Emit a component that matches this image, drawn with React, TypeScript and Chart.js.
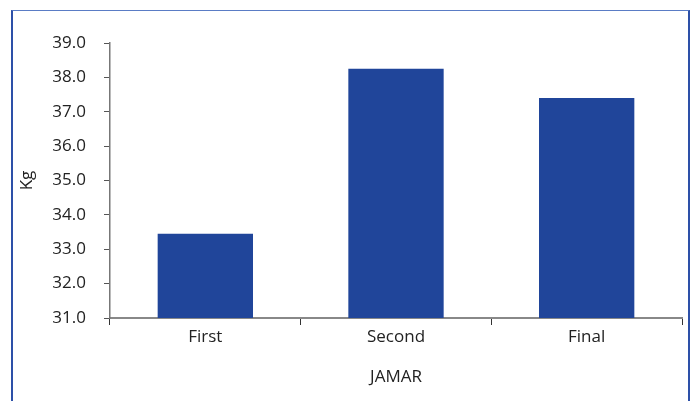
import React, { useEffect, useRef } from "react";
import { Chart, registerables } from "chart.js";

Chart.register(...registerables);

const categories = ["First", "Second", "Final"];
const values = [33.45, 38.25, 37.4];
const yMin = 31;
const yMax = 39;
const yStep = 1;
const yTitle = "Kg";
const xTitle = "JAMAR";

const FONT = "'Open Sans', 'DejaVu Sans', sans-serif";
const SIZE = 17;

export default function App() {
  const ref = useRef<HTMLCanvasElement | null>(null);

  useEffect(() => {
    document.body.style.margin = "0";
    const ctx = ref.current!;
    const chart = new Chart(ctx, {
      type: "bar",
      data: {
        labels: categories,
        datasets: [
          {
            data: values,
            backgroundColor: "#20459a",
            borderWidth: 0,
            categoryPercentage: 1,
            barPercentage: 0.5,
          },
        ],
      },
      options: {
        animation: false,
        responsive: false,
        maintainAspectRatio: false,
        devicePixelRatio: 1,
        layout: { padding: { top: 43, right: 16, bottom: 0, left: 0 } },
        plugins: {
          legend: { display: false },
          tooltip: { enabled: false },
        },
        scales: {
          x: {
            grid: {
              offset: true,
              drawOnChartArea: false,
              drawTicks: true,
              tickLength: 7,
              tickColor: "#333",
              tickWidth: 1,
            },
            border: { display: true, color: "#888", width: 2 },
            ticks: {
              color: "#222",
              font: { family: FONT, size: SIZE },
              padding: 2,
            },
            title: {
              display: true,
              text: xTitle,
              color: "#222",
              font: { family: FONT, size: SIZE },
              padding: { top: 0, bottom: 14 },
            },
            afterFit: (s: any) => {
              s.height = 83;
            },
          },
          y: {
            min: yMin,
            max: yMax,
            grid: {
              drawOnChartArea: false,
              drawTicks: true,
              tickLength: 6,
              tickColor: "#555",
              tickWidth: 1,
            },
            border: { display: true, color: "#777", width: 1.5 },
            ticks: {
              stepSize: yStep,
              color: "#222",
              font: { family: FONT, size: SIZE },
              padding: 18,
              callback: (v: any) => Number(v).toFixed(1),
            },
            title: {
              display: true,
              text: yTitle,
              color: "#222",
              font: { family: FONT, size: SIZE },
              padding: { top: 17, bottom: 0 },
            },
            afterFit: (s: any) => {
              s.width = 110;
            },
          },
        },
      },
    });
    return () => chart.destroy();
  }, []);

  return (
    <div style={{ position: "absolute", left: 0, top: 0, width: 698, height: 401, background: "#fff" }}>
      <div
        style={{
          position: "absolute",
          left: 11,
          top: 10,
          width: 679,
          height: 400,
          borderTop: "1.5px solid #5a7cc5",
          borderLeft: "2px solid #2d50a8",
          borderRight: "2px solid #2d50a8",
          boxSizing: "border-box",
        }}
      />
      <canvas ref={ref} width={698} height={401} style={{ position: "absolute", left: 0, top: 0 }} />
    </div>
  );
}
